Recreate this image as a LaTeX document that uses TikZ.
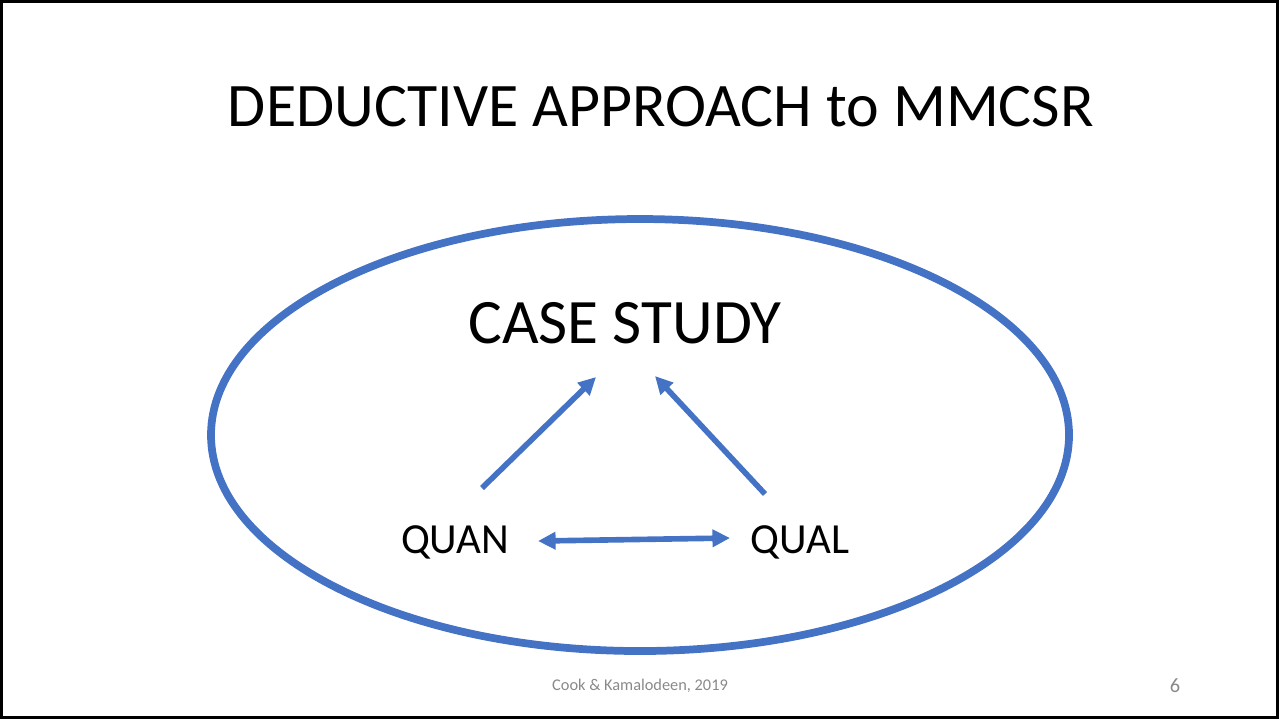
\documentclass[tikz,border=0pt]{standalone}
\usepackage{fontspec}
\setmainfont{Carlito}
\usetikzlibrary{arrows.meta,calc}
\definecolor{slideblue}{RGB}{68,114,196}
\definecolor{footgray}{RGB}{137,137,137}
\tikzset{
 ring/.style={draw=slideblue,line width=2.2pt},
 label text/.style={inner sep=1pt,text=black},
 flow/.style={draw=slideblue,line width=1.6pt,-{Triangle[length=5pt,width=4.8pt]}},
 twoway/.style={draw=slideblue,line width=1.6pt,{Triangle[length=5pt,width=4.8pt]}-{Triangle[length=5pt,width=4.8pt]}},
 foot/.style={inner sep=0pt,text=footgray}
}
\begin{document}
\begin{tikzpicture}[x=0.01cm,y=-0.01cm]
\useasboundingbox (0,0) rectangle (1280,720);
\draw[line width=0.6pt] (1.5,1.5) rectangle (1277.5,717.5);
% title
\node[label text,font=\fontsize{17.6pt}{21pt}\selectfont] (title) at (661,107) {DEDUCTIVE APPROACH to MMCSR};
% outer ring
\draw[ring] (640,435) ellipse [x radius=429, y radius=216];
\node[label text,font=\fontsize{18pt}{21pt}\selectfont] (case) at (625,323) {CASE STUDY};
\node[label text,font=\fontsize{12.2pt}{14pt}\selectfont] (quan) at (455,542) {QUAN};
\node[label text,font=\fontsize{12.2pt}{14pt}\selectfont] (qual) at (800,542) {QUAL};
\draw[flow] ($(quan)+(27,-54)$) -- ($(case)+(-29,54)$);
\draw[flow] ($(qual)+(-35,-48)$) -- ($(case)+(30,53)$);
\draw[twoway] ($(quan)+(83,-1)$) -- ($(qual)+(-70,-4)$);
% footer
\node[foot,font=\fontsize{4.65pt}{6pt}\selectfont] (credit) at (640,686) {Cook \& Kamalodeen, 2019};
\node[foot,font=\fontsize{5.8pt}{7pt}\selectfont] (page) at (1175,686) {6};
\end{tikzpicture}
\end{document}
